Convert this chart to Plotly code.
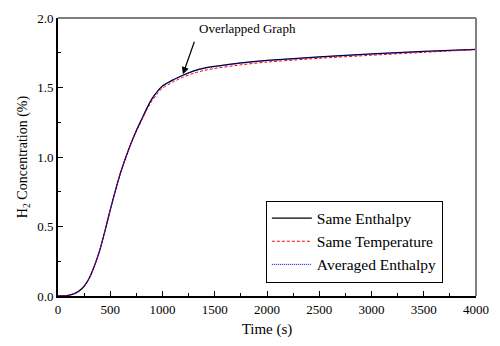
import plotly.graph_objects as go

time_s = [0, 100, 150, 200, 250, 300, 350, 400, 450, 500, 550, 600, 650, 700, 750, 800, 850,
          900, 950, 1000, 1100, 1200, 1300, 1400, 1500, 1750, 2000, 2500, 3000, 3500, 4000]
same_enthalpy = [0, 0.005, 0.015, 0.035, 0.07, 0.13, 0.22, 0.33, 0.47, 0.62, 0.76, 0.89, 1.00,
                 1.10, 1.19, 1.27, 1.35, 1.42, 1.47, 1.51, 1.555, 1.59, 1.62, 1.64, 1.652,
                 1.677, 1.695, 1.72, 1.742, 1.76, 1.775]
same_temperature = [0, 0.005, 0.015, 0.035, 0.07, 0.13, 0.22, 0.33, 0.47, 0.62, 0.76, 0.89, 1.00,
                    1.10, 1.185, 1.262, 1.34, 1.405, 1.455, 1.495, 1.54, 1.575, 1.603, 1.623,
                    1.637, 1.663, 1.683, 1.71, 1.732, 1.753, 1.772]
averaged_enthalpy = [0, 0.005, 0.015, 0.035, 0.07, 0.13, 0.22, 0.33, 0.47, 0.62, 0.76, 0.89, 1.00,
                     1.10, 1.19, 1.27, 1.35, 1.42, 1.47, 1.51, 1.553, 1.588, 1.618, 1.638, 1.65,
                     1.675, 1.693, 1.718, 1.74, 1.758, 1.774]

FONT = "Liberation Serif"

fig = go.Figure()
fig.add_trace(go.Scatter(x=time_s, y=same_enthalpy, mode="lines", name="Same Enthalpy",
                         line=dict(color="black", width=1.3, shape="spline", smoothing=0.6)))
fig.add_trace(go.Scatter(x=time_s, y=same_temperature, mode="lines", name="Same Temperature",
                         line=dict(color="red", width=1, dash="3px,2px", shape="spline",
                                   smoothing=0.6)))
fig.add_trace(go.Scatter(x=time_s, y=averaged_enthalpy, mode="lines", name="Averaged Enthalpy",
                         line=dict(color="blue", width=1, dash="1px,1px", shape="spline",
                                   smoothing=0.6)))

fig.add_annotation(x=1195, y=1.595, ax=1310, ay=1.84, xref="x", yref="y", axref="x", ayref="y",
                   text="", showarrow=True, arrowhead=2, arrowsize=1.2, arrowwidth=1.2,
                   arrowcolor="black")
fig.add_annotation(x=1330, y=1.925, xref="x", yref="y", text="Overlapped Graph",
                   showarrow=False, xanchor="left", yanchor="middle",
                   font=dict(family=FONT, size=13, color="black"))

fig.add_shape(type="line", xref="paper", yref="paper", x0=0, x1=1, y0=1, y1=1,
              line=dict(color="#808080", width=2))
fig.add_shape(type="line", xref="paper", yref="paper", x0=1, x1=1, y0=0, y1=1,
              line=dict(color="#808080", width=2))

fig.update_layout(
    width=500, height=346,
    margin=dict(l=58, r=17, t=11, b=49),
    paper_bgcolor="white", plot_bgcolor="white",
    font=dict(family=FONT, size=13, color="black"),
    showlegend=True,
    legend=dict(x=0.709, y=0.196, xanchor="center", yanchor="middle",
                bordercolor="black", borderwidth=1, bgcolor="white",
                font=dict(family=FONT, size=15.5), tracegroupgap=0,
                itemwidth=40),
    xaxis=dict(range=[0, 4000], tickvals=[0, 500, 1000, 1500, 2000, 2500, 3000, 3500, 4000],
               ticks="inside", ticklen=5, tickwidth=1, tickcolor="black",
               minor=dict(dtick=250, ticks="inside", ticklen=3, tickcolor="black"),
               showline=True, linecolor="black", linewidth=2, showgrid=False, zeroline=False,
               title=dict(text="Time (s)", font=dict(family=FONT, size=15), standoff=8),
               tickfont=dict(family=FONT, size=13)),
    yaxis=dict(range=[0, 2.0], tickvals=[0, 0.5, 1.0, 1.5, 2.0], tickformat=".1f",
               ticks="inside", ticklen=5, tickwidth=1, tickcolor="black",
               minor=dict(dtick=0.25, ticks="inside", ticklen=3, tickcolor="black"),
               showline=True, linecolor="black", linewidth=2, showgrid=False, zeroline=False,
               title=dict(text="H<sub>2</sub> Concentration (%)", font=dict(family=FONT, size=14),
                          standoff=6),
               tickfont=dict(family=FONT, size=13)),
)

fig.write_html("out.html")
